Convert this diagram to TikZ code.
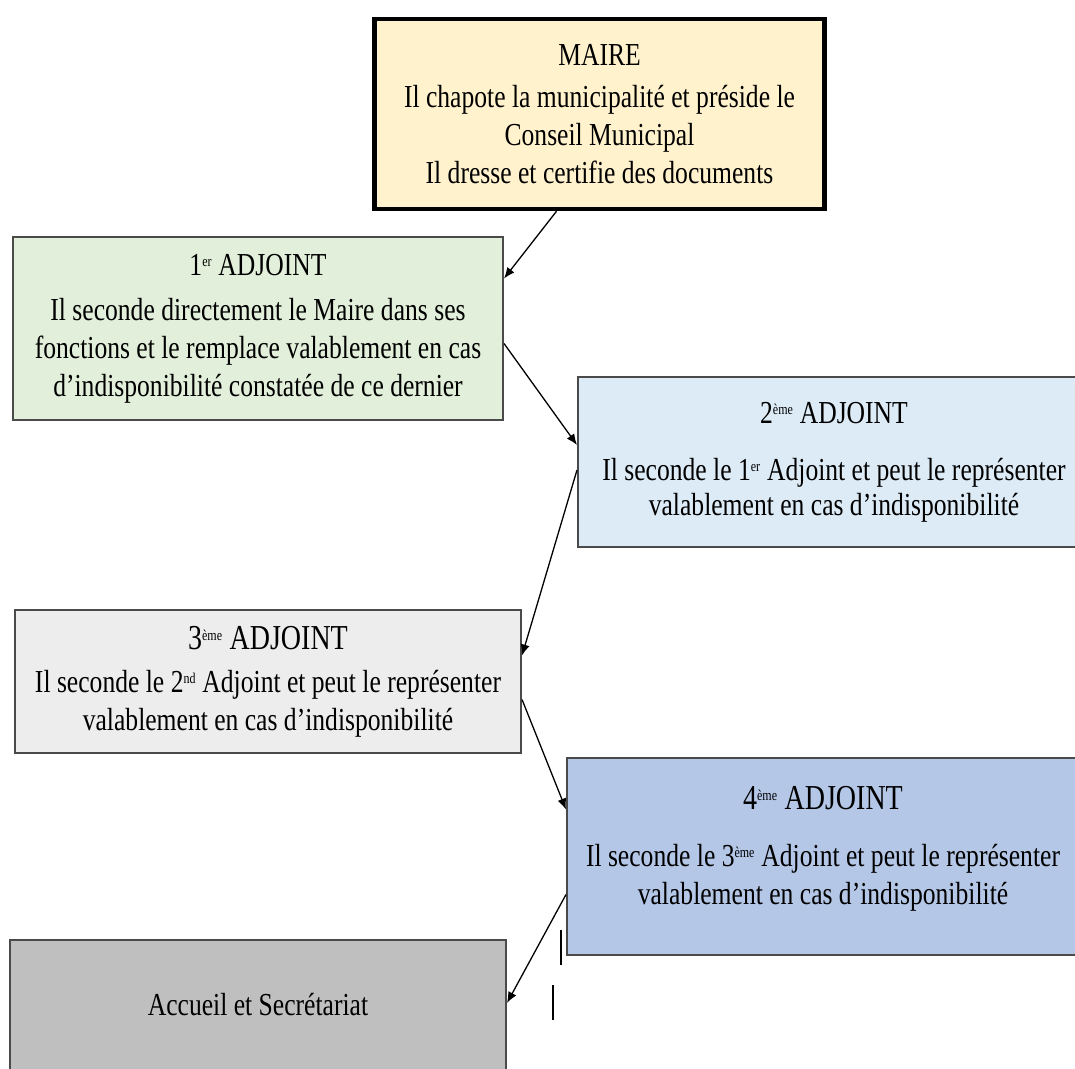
\documentclass[tikz,border=0pt]{standalone}
\usepackage{fontspec}
\setmainfont{Liberation Serif}[FakeStretch=0.8]
\usetikzlibrary{arrows.meta}
\definecolor{mairefill}{HTML}{FFF2CC}
\definecolor{unfill}{HTML}{E2EFDA}
\definecolor{deuxfill}{HTML}{DDEBF7}
\definecolor{troisfill}{HTML}{EDEDED}
\definecolor{quatrefill}{HTML}{B4C7E7}
\definecolor{accfill}{HTML}{BFBFBF}
\definecolor{boxline}{HTML}{4A4A4A}
\newcommand{\expo}[1]{\textsuperscript{\fontsize{15}{15}\selectfont #1}}
\tikzset{
  poste/.style={draw=boxline, line width=2pt, align=center, inner sep=0pt,
    font=\fontsize{32}{38}\selectfont},
  lien/.style={-{Latex[length=11pt,width=9pt]}, line width=1.3pt}
}
\begin{document}
\begin{tikzpicture}[x=1pt,y=-1pt]
        \useasboundingbox (0,0) rectangle (1075,1068);
        % define boxes
        \node[poste, draw=black, line width=4.5pt, fill=mairefill, minimum width=450, minimum height=190]
          (maire) at (599.5,114) {MAIRE\\[4pt] Il chapote la municipalité et préside le\\ Conseil Municipal\\ Il dresse et certifie des documents};
        \node[poste, fill=unfill, minimum width=490, minimum height=183]
          (adj1) at (258,328.5) {1\expo{er} ADJOINT\\[7pt] Il seconde directement le Maire dans ses\\ fonctions et le remplace valablement en cas\\ d’indisponibilité constatée de ce dernier};
        \node[poste, fill=deuxfill, minimum width=512, minimum height=170]
          (adj2) at (834,462) {2\expo{ème} ADJOINT\\[19pt] Il seconde le 1\expo{er} Adjoint et peut le représenter\\[-3pt] valablement en cas d’indisponibilité};
        \node[poste, fill=troisfill, minimum width=506, minimum height=143]
          (adj3) at (268,681.5) {{\fontsize{35}{38}\selectfont 3\expo{ème} ADJOINT}\\[5pt] Il seconde le 2\expo{nd} Adjoint et peut le représenter\\ valablement en cas d’indisponibilité};
        \node[poste, fill=quatrefill, minimum width=512, minimum height=197]
          (adj4) at (823,856.5) {{\fontsize{35}{38}\selectfont 4\expo{ème} ADJOINT}\\[19pt] Il seconde le 3\expo{ème} Adjoint et peut le représenter\\ valablement en cas d’indisponibilité\\[-16pt] \mbox{}};
        \node[poste, fill=accfill, minimum width=496, minimum height=130]
          (acc) at (258,1005) {Accueil et Secrétariat};
        % links
        \draw[lien] ([xshift=-43pt]maire.south) -- ([yshift=50pt]adj1.east);
        \draw[lien] ([yshift=-15pt]adj1.east) -- ([yshift=17pt]adj2.west);
        \draw[lien] ([yshift=-8pt]adj2.west) -- ([yshift=26pt]adj3.east);
        \draw[lien] ([yshift=-18pt]adj3.east) -- ([yshift=47pt]adj4.west);
        \draw[lien] ([yshift=-38pt]adj4.west) -- ([yshift=2pt]acc.east);
        % cursor marks
        \draw[line width=1.5pt] (561,930) -- (561,965);
        \draw[line width=1.5pt] (553,985) -- (553,1020);
\end{tikzpicture}
\end{document}
